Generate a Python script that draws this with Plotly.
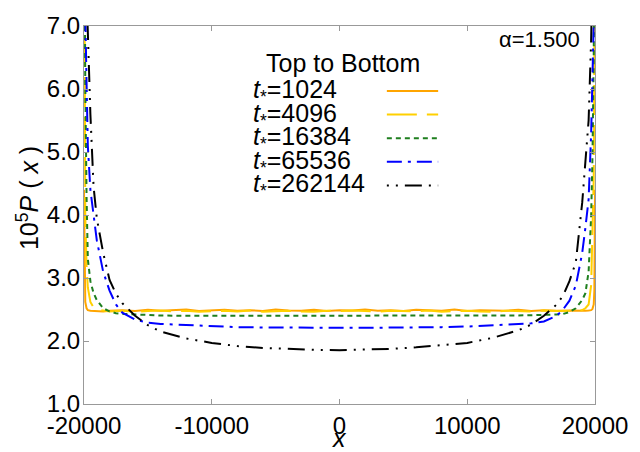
import plotly.graph_objects as go

# ---------------- data ----------------
X_COARSE = [-20000, -19950, -19900, -19800, -19700, -19500, -19250, -19000, -18500,
            -18000, -17500, -17000, -16000, -15000, -14000, -12000, -10000, -8000,
            -6000, -4000, -2000, 0, 2000, 4000, 6000, 8000, 10000, 12000, 14000,
            15000, 16000, 17000, 17500, 18000, 18500, 19000, 19250, 19500, 19700,
            19800, 19900, 19950, 20000]

X_FINE = [-20000, -19950, -19900, -19800, -19700, -19500, -19250, -19000, -18500,
          -18000, -17000, -16000, -15000, -14000, -13000, -12000, -11000, -10000,
          -9000, -8000, -7000, -6000, -5000, -4000, -3000, -2000, -1000, 0,
          1000, 2000, 3000, 4000, 5000, 6000, 7000, 8000, 9000, 10000, 11000,
          12000, 13000, 14000, 15000, 16000, 17000, 18000,
          18500, 19000, 19250, 19500, 19700, 19800, 19900, 19950, 20000]

P_1024 = [4.4, 2.9, 2.62, 2.52, 2.49, 2.48, 2.475, 2.48, 2.47,
          2.48, 2.49, 2.475, 2.495, 2.48, 2.49, 2.50, 2.475, 2.485, 2.495, 2.48,
          2.49, 2.475, 2.50, 2.485, 2.48, 2.495, 2.475, 2.49, 2.485, 2.50, 2.48,
          2.49, 2.475, 2.495, 2.485, 2.48, 2.50, 2.475, 2.49, 2.485, 2.48, 2.495,
          2.475, 2.49, 2.48, 2.485,
          2.48, 2.475, 2.48, 2.485, 2.49, 2.51, 2.58, 2.8, 4.4]

P_4096 = [10.0, 5.5, 4.0, 3.2, 2.85, 2.62, 2.53, 2.5, 2.485,
          2.47, 2.48, 2.465, 2.475, 2.485, 2.47, 2.48, 2.465, 2.475, 2.48, 2.47,
          2.485, 2.465, 2.475, 2.48, 2.47, 2.465, 2.48, 2.475, 2.485, 2.47, 2.465,
          2.48, 2.475, 2.47, 2.485, 2.465, 2.475, 2.48, 2.47, 2.465, 2.48, 2.475,
          2.47, 2.485, 2.475, 2.48,
          2.48, 2.49, 2.52, 2.58, 2.89, 3.6, 4.6, 6.5, 10.0]

P_16384 = [10.0, 7.3, 6.1, 4.3, 3.3, 2.95, 2.76, 2.65, 2.52, 2.47, 2.44, 2.43, 2.42,
           2.41, 2.405, 2.40, 2.40, 2.395, 2.40, 2.395, 2.40, 2.395, 2.40, 2.395,
           2.40, 2.40, 2.395, 2.40, 2.405, 2.41, 2.41, 2.42, 2.43, 2.46, 2.52,
           2.65, 2.76, 3.1, 4.0, 4.9, 6.5, 7.5, 10.0]

P_65536 = [10.0, 8.5, 7.2, 6.1, 5.1, 4.4, 3.95, 3.6, 3.1, 2.8, 2.58, 2.45, 2.34,
           2.29, 2.27, 2.25, 2.23, 2.22, 2.215, 2.21, 2.21, 2.21, 2.21, 2.21,
           2.215, 2.22, 2.23, 2.25, 2.27, 2.28, 2.31, 2.40, 2.50, 2.64, 2.88,
           3.4, 3.8, 4.25, 5.3, 5.95, 6.6, 7.5, 10.0]

P_262144 = [10.0, 9.0, 8.2, 7.5, 6.9, 5.6, 4.45, 3.95, 3.4, 2.97, 2.75, 2.6, 2.4,
            2.25, 2.15, 2.04, 1.97, 1.92, 1.89, 1.87, 1.86, 1.855, 1.86, 1.875,
            1.90, 1.93, 1.97, 2.05, 2.17, 2.26, 2.40, 2.58, 2.72, 2.95, 3.25,
            4.2, 4.85, 5.5, 6.8, 7.4, 8.2, 9.0, 10.0]

LABELS = ["1024", "4096", "16384", "65536", "262144"]
X_TICKS = [-20000, -10000, 0, 10000, 20000]
X_TICK_TEXT = ["-20000", "-10000", "0", "10000", "20000"]
Y_TICKS = [1, 2, 3, 4, 5, 6, 7]
Y_TICK_TEXT = ["1.0", "2.0", "3.0", "4.0", "5.0", "6.0", "7.0"]

# ---------------- styles ----------------
COLORS = ["#FFA500", "#FFD000", "#1E7F1E", "#0000FF", "#000000"]
DASHES = ["solid", "30px,10px", "5px,4px", "15px,6px,3px,6px",
          "2px,7px,2px,7px,17px,7px"]
WIDTHS = [2, 2, 2, 2, 2]

FONT = "Liberation Sans, Arial, sans-serif"

series = [(X_FINE, P_1024), (X_FINE, P_4096), (X_COARSE, P_16384),
          (X_COARSE, P_65536), (X_COARSE, P_262144)]

fig = go.Figure()
for (xs, ys), lab, c, d, w in zip(series, LABELS, COLORS, DASHES, WIDTHS):
    fig.add_trace(go.Scatter(x=xs, y=ys, mode="lines", name=lab,
                             line=dict(color=c, dash=d, width=w),
                             showlegend=False))

# plot area geometry in pixels
L, R, T, B = 84, 38, 20, 48
W, H = 640, 452
PW, PH = W - L - R, H - T - B


def px(xp):
    return (xp - L) / PW


def py(yp):
    return (H - B - yp) / PH


annotations = []
shapes = []
# legend header
annotations.append(dict(x=px(347), y=py(58), xref="paper", yref="paper",
                        text="Top to Bottom", showarrow=False,
                        xanchor="center", yanchor="middle",
                        font=dict(family=FONT, size=25, color="#000")))
rows = [86, 110, 134, 158, 182]
for lab, c, d, yrow in zip(LABELS, COLORS, DASHES, rows):
    annotations.append(dict(x=px(253), y=py(yrow), xref="paper", yref="paper",
                            text="<i>t</i><sub>*</sub>=" + lab, showarrow=False,
                            xanchor="left", yanchor="middle",
                            font=dict(family=FONT, size=25, color="#000")))
    shapes.append(dict(type="line", xref="paper", yref="paper",
                       x0=px(391), x1=px(443), y0=py(yrow), y1=py(yrow),
                       line=dict(color=c, dash=d, width=2)))

annotations.append(dict(x=px(589), y=py(34), xref="paper", yref="paper",
                        text="α=1.500", showarrow=False,
                        xanchor="right", yanchor="middle",
                        font=dict(family=FONT, size=22, color="#000")))
# axis titles
annotations.append(dict(x=px(27), y=py(195), xref="paper", yref="paper",
                        text="10<sup>5</sup><i>P</i> ( <i>x</i> )", showarrow=False,
                        textangle=-90, xanchor="center", yanchor="middle",
                        font=dict(family=FONT, size=25, color="#000")))
annotations.append(dict(x=px(343), y=py(439), xref="paper", yref="paper",
                        text="<i>x</i>", showarrow=False,
                        xanchor="center", yanchor="middle",
                        font=dict(family=FONT, size=25, color="#000")))

axis_common = dict(showgrid=False, zeroline=False, showline=True,
                   linecolor="#999999", linewidth=1, mirror="ticks",
                   ticks="inside", ticklen=5, tickcolor="#999999",
                   tickfont=dict(family=FONT, size=24, color="#000"))

fig.update_layout(
    width=W, height=H,
    margin=dict(l=L, r=R, t=T, b=B, pad=0),
    paper_bgcolor="white", plot_bgcolor="white",
    xaxis=dict(range=[-20000, 20000], tickvals=X_TICKS, ticktext=X_TICK_TEXT,
               ticklabelstandoff=0, **axis_common),
    yaxis=dict(range=[1, 7], tickvals=Y_TICKS, ticktext=Y_TICK_TEXT,
               ticklabelstandoff=-2, **axis_common),
    annotations=annotations, shapes=shapes,
    showlegend=False,
)

fig.write_html("out.html")
